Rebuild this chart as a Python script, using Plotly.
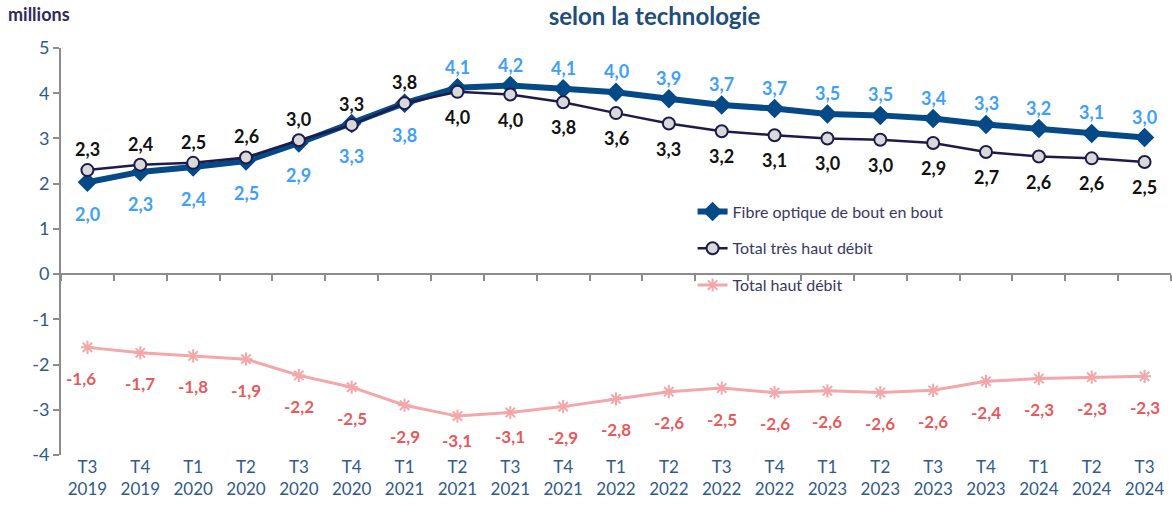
import plotly.graph_objects as go

quarters = ["T3", "T4", "T1", "T2", "T3", "T4", "T1", "T2", "T3", "T4", "T1", "T2",
            "T3", "T4", "T1", "T2", "T3", "T4", "T1", "T2", "T3"]
years = ["2019", "2019", "2020", "2020", "2020", "2020", "2021", "2021", "2021", "2021",
         "2022", "2022", "2022", "2022", "2023", "2023", "2023", "2023", "2024", "2024", "2024"]
categories = [f"{q}<br>{y}" for q, y in zip(quarters, years)]

fibre = [2.03, 2.26, 2.37, 2.50, 2.90, 3.33, 3.78, 4.12, 4.17, 4.10, 4.02, 3.88,
         3.74, 3.66, 3.54, 3.51, 3.44, 3.31, 3.22, 3.11, 3.02]
thd = [2.30, 2.42, 2.46, 2.58, 2.96, 3.30, 3.78, 4.03, 3.97, 3.80, 3.56, 3.33,
       3.16, 3.07, 3.00, 2.97, 2.90, 2.70, 2.60, 2.56, 2.48]
hd = [-1.62, -1.74, -1.81, -1.88, -2.24, -2.50, -2.90, -3.14, -3.06, -2.93, -2.76, -2.60,
      -2.52, -2.62, -2.58, -2.62, -2.57, -2.37, -2.31, -2.28, -2.26]

y_ticks = [-4, -3, -2, -1, 0, 1, 2, 3, 4, 5]

# label placement: True = above the point
fibre_above = [False] * 7 + [True] * 14
thd_above = [True] * 7 + [False] * 14

FONT = "Lato"
C_FIBRE = "#054a87"
C_THD = "#1e1b4b"
C_HD = "#f4a7a9"
C_FIBRE_LBL = "#3fa0f5"
C_THD_LBL = "#111111"
C_HD_LBL = "#e8595b"
C_AXIS_TXT = "#2f5a8c"


def fmt(v):
    return f"{v:.1f}".replace(".", ",")


fig = go.Figure()

fig.add_trace(go.Scatter(
    x=categories, y=fibre, mode="lines+markers", name="Fibre optique de bout en bout",
    line=dict(color=C_FIBRE, width=6),
    marker=dict(symbol="diamond", size=15, color=C_FIBRE),
    legendgroup="a",
))
fig.add_trace(go.Scatter(
    x=categories, y=thd, mode="lines+markers", name="Total très haut débit",
    line=dict(color=C_THD, width=2.5),
    marker=dict(symbol="circle", size=12, color="#d9d9d9", line=dict(color=C_THD, width=2)),
    legendgroup="b",
))
fig.add_trace(go.Scatter(
    x=categories, y=hd, mode="lines+markers", name="Total haut débit",
    line=dict(color=C_HD, width=3),
    marker=dict(symbol="asterisk-open", size=11, color=C_HD, line=dict(color=C_HD, width=2)),
    legendgroup="c",
))

annotations = []
for c, v, up in zip(categories, fibre, fibre_above):
    annotations.append(dict(x=c, y=v, text=fmt(v), showarrow=False,
                            yshift=21 if up else -32,
                            font=dict(family=FONT, size=18, color=C_FIBRE_LBL, weight="bold")))
for c, v, up in zip(categories, thd, thd_above):
    annotations.append(dict(x=c, y=v, text=fmt(v), showarrow=False,
                            yshift=21 if up else -25,
                            font=dict(family=FONT, size=18, color=C_THD_LBL, weight="bold")))
for i, (c, v) in enumerate(zip(categories, hd)):
    annotations.append(dict(x=c, y=v, text=fmt(v), showarrow=False,
                            xshift=-6 if i == 0 else 0, yshift=-24 if v < -3 else -31,
                            font=dict(family=FONT, size=17, color=C_HD_LBL, weight="bold")))

annotations.append(dict(xref="paper", yref="paper", x=-0.05, y=1.083, xanchor="left",
                        yanchor="middle", text="<b>millions</b>", showarrow=False,
                        font=dict(family=FONT, size=18, color="#2e2a5c")))

fig.update_layout(
    width=1172, height=521,
    margin=dict(l=61, r=1, t=48, b=66),
    paper_bgcolor="white", plot_bgcolor="white",
    title=dict(text="<b>selon la technologie</b>", x=0.5585, xanchor="center",
               y=1 - 17 / 521, yanchor="middle",
               font=dict(family=FONT, size=24, color="#1f4e79")),
    showlegend=True,
    legend=dict(x=0.569, y=0.640, xanchor="left", yanchor="top", bgcolor="rgba(0,0,0,0)",
                font=dict(family=FONT, size=16, color="#3a3862"), tracegroupgap=13,
                traceorder="grouped"),
    annotations=annotations,
    xaxis=dict(type="category", categoryarray=categories, range=[-0.5, 20.5],
               showline=False, showgrid=False, ticks="", zeroline=False,
               tickfont=dict(family=FONT, size=17, color=C_AXIS_TXT)),
    xaxis2=dict(type="category", categoryarray=categories, range=[-0.5, 20.5],
                overlaying="x", anchor="free", position=4 / 9, side="bottom",
                showline=True, linecolor="#8c8c8c", linewidth=1.5,
                ticks="outside", tickson="boundaries", ticklen=6, tickcolor="#8c8c8c",
                tickwidth=1.5, showticklabels=False, showgrid=False, zeroline=False),
    yaxis=dict(range=[-4, 5], tickvals=y_ticks, ticktext=[str(t) for t in y_ticks],
               showgrid=False, zeroline=False,
               showline=True, linecolor="#8c8c8c", linewidth=2,
               ticks="outside", ticklen=6, tickcolor="#8c8c8c", tickwidth=2,
               tickfont=dict(family=FONT, size=18, color=C_AXIS_TXT)),
)

# invisible trace to activate xaxis2 (zero-line axis with boundary ticks)
fig.add_trace(go.Scatter(x=categories, y=[0] * len(categories), xaxis="x2", mode="none",
                         showlegend=False, hoverinfo="skip"))

fig.write_html("out.html", config={"displayModeBar": False},
               post_script="document.body.style.margin='0';document.body.style.overflow='hidden';")
